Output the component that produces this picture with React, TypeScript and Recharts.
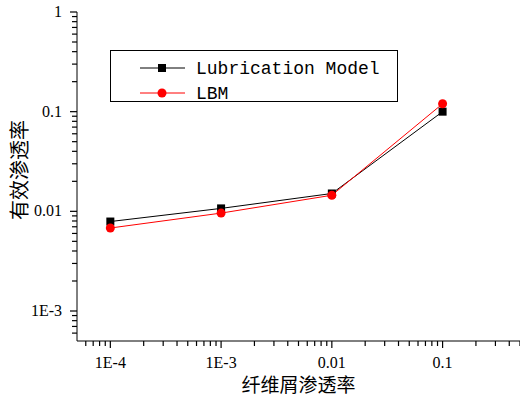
import { LineChart, Line, XAxis, YAxis, Legend } from "recharts";

const xValues = [1e-4, 1e-3, 0.01, 0.1];
const lubrication = [0.0079, 0.0107, 0.0151, 0.1];
const lbm = [0.0068, 0.0096, 0.0145, 0.12];
const seriesNames = ["Lubrication Model", "LBM"];

const xMajor = [1e-4, 1e-3, 0.01, 0.1];
const xMajorLabels = ["1E-4", "1E-3", "0.01", "0.1"];
const yMajor = [1e-3, 0.01, 0.1, 1];
const yMajorLabels = ["1E-3", "0.01", "0.1", "1"];
const xTitle = "纤维屑渗透率";
const yTitle = "有效渗透率";

const xDomain = [5e-5, 0.5];
const yDomain = [5e-4, 1];

function majorIndex(list: number[], v: number) {
  return list.findIndex((m) => Math.abs(m - v) / m < 1e-6);
}

// log ticks 1..9 per decade inside the domain (majors + minors)
function logTicks(lo: number, hi: number) {
  const out: number[] = [];
  const start = Math.floor(Math.log10(lo));
  const end = Math.ceil(Math.log10(hi));
  for (let e = start; e <= end; e++) {
    for (let m = 1; m <= 9; m++) {
      const v = parseFloat((m * Math.pow(10, e)).toPrecision(6));
      if (v > lo * 1.0001 && v <= hi * 1.0001) out.push(v);
    }
  }
  return out;
}

const xTicks = logTicks(xDomain[0], xDomain[1]);
const yTicks = logTicks(yDomain[0], yDomain[1]);

const data = xValues.map((x, i) => ({
  x,
  lubrication: lubrication[i],
  lbm: lbm[i],
}));

const serif = "'Liberation Serif', 'Times New Roman', serif";
const cjk = "'Noto Sans CJK SC', sans-serif";

const XTick = (props: any) => {
  const { x, y, payload } = props;
  const i = majorIndex(xMajor, payload.value);
  const len = i >= 0 ? 7 : 5;
  return (
    <g>
      <line x1={x} y1={y} x2={x} y2={y + len} stroke="#000" strokeWidth={1.2} />
      <text x={x} y={y + 27} textAnchor="middle" fontFamily={serif} fontSize={16} fill="#000">
        {i >= 0 ? xMajorLabels[i] : ""}
      </text>
    </g>
  );
};

const YTick = (props: any) => {
  const { x, y, payload } = props;
  const i = majorIndex(yMajor, payload.value);
  const len = i >= 0 ? 7 : 5;
  return (
    <g>
      <line x1={x} y1={y} x2={x - len} y2={y} stroke="#000" strokeWidth={1.2} />
      <text x={x - 15} y={y + 5} textAnchor="end" fontFamily={serif} fontSize={16} fill="#000">
        {i >= 0 ? yMajorLabels[i] : ""}
      </text>
    </g>
  );
};

const LegendBox = (props: any) => {
  const items = [...(props.payload || [])].sort(
    (a: any, b: any) => seriesNames.indexOf(a.value) - seriesNames.indexOf(b.value)
  );
  return (
    <div style={{ width: 286, height: 50, border: "1px solid #000", background: "#fff" }}>
      <svg width={286} height={50} style={{ overflow: "visible" }}>
        {items.map((p: any, i: number) => {
          const cy = 17 + i * 25;
          const color = p.color;
          return (
            <g key={p.value}>
              <line x1={29} x2={74} y1={cy} y2={cy} stroke={color} strokeWidth={1} />
              {i === 0 ? (
                <rect x={47} y={cy - 4} width={8} height={8} fill={color} />
              ) : (
                <circle cx={51} cy={cy} r={4.5} fill={color} />
              )}
              <text
                x={85}
                y={cy + 6}
                fontFamily="'Liberation Mono', 'DejaVu Sans Mono', monospace"
                fontSize={18}
                fill="#000"
              >
                {p.value}
              </text>
            </g>
          );
        })}
      </svg>
    </div>
  );
};

export default function App() {
  return (
    <div style={{ position: "absolute", left: 0, top: 0, width: 520, height: 396 }}>
      <LineChart width={520} height={396} data={data} margin={{ top: 12, right: 0, left: 0, bottom: 0 }}>
        <XAxis
          dataKey="x"
          type="number"
          scale="log"
          domain={xDomain}
          ticks={xTicks}
          interval={0}
          tick={<XTick />}
          tickLine={false}
          tickSize={0}
          tickMargin={0}
          height={55}
          stroke="#000"
          allowDataOverflow
        />
        <YAxis
          type="number"
          scale="log"
          domain={yDomain}
          ticks={yTicks}
          interval={0}
          tick={<YTick />}
          tickLine={false}
          tickSize={0}
          tickMargin={0}
          width={77}
          stroke="#000"
          allowDataOverflow
        />
        <Legend
          layout="horizontal"
          verticalAlign="middle"
          content={<LegendBox />}
          wrapperStyle={{ left: 110, top: 50, width: 288 }}
        />
        <Line
          dataKey="lubrication"
          name="Lubrication Model"
          stroke="#000"
          strokeWidth={1}
          dot={(p: any) => (
            <rect key={`s${p.index}`} x={p.cx - 4} y={p.cy - 4} width={8} height={8} fill="#000" />
          )}
          isAnimationActive={false}
        />
        <Line
          dataKey="lbm"
          name="LBM"
          stroke="#ff0000"
          strokeWidth={1}
          dot={{ r: 4.5, fill: "#ff0000", stroke: "none" }}
          isAnimationActive={false}
        />
      </LineChart>
      <div
        style={{
          position: "absolute",
          left: 77,
          width: 443,
          top: 372,
          textAlign: "center",
          fontFamily: cjk,
          fontSize: 19,
          lineHeight: "24px",
          color: "#000",
        }}
      >
        {xTitle}
      </div>
      <div
        style={{
          position: "absolute",
          left: 19,
          top: 170,
          transform: "translate(-50%, -50%) rotate(-90deg)",
          whiteSpace: "nowrap",
          fontFamily: cjk,
          fontSize: 20,
          lineHeight: "24px",
          color: "#000",
        }}
      >
        {yTitle}
      </div>
    </div>
  );
}
